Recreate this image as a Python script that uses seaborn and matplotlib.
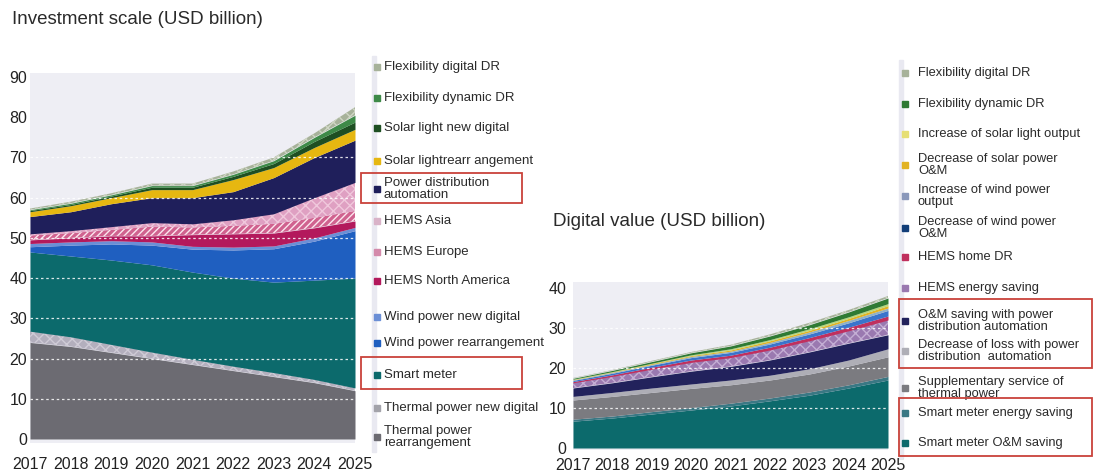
import numpy as np
import pandas as pd
import seaborn as sns
import matplotlib.pyplot as plt
from matplotlib.patches import Rectangle

sns.set_theme(style="white")
plt.rcParams['font.family'] = ['Liberation Sans', 'DejaVu Sans']
plt.rcParams['hatch.linewidth'] = 1.0

years = [2017, 2018, 2019, 2020, 2021, 2022, 2023, 2024, 2025]

# ---- Investment scale (USD billion), stacked bottom -> top ----
inv_labels = [
    "Thermal power\nrearrangement",
    "Thermal power new digital",
    "Smart meter",
    "Wind power rearrangement",
    "Wind power new digital",
    "HEMS North America",
    "HEMS Europe",
    "HEMS Asia",
    "Power distribution\nautomation",
    "Solar lightrearr angement",
    "Solar light new digital",
    "Flexibility dynamic DR",
    "Flexibility digital DR",
]
thermal_rearr = [24.0, 23.0, 21.5, 20.0, 18.5, 17.0, 15.5, 14.0, 12.0]
thermal_digital = [2.8, 2.4, 2.0, 1.6, 1.3, 1.1, 1.0, 0.8, 0.7]
smart_meter = [19.7, 20.1, 21.0, 21.7, 21.7, 21.9, 22.5, 24.7, 27.3]
wind_rearr = [1.3, 2.7, 4.0, 4.9, 5.7, 7.0, 8.3, 9.7, 11.8]
wind_digital = [0.8, 0.8, 0.8, 0.8, 0.7, 0.7, 0.7, 0.8, 0.8]
hems_na = [0.9, 1.0, 1.2, 1.5, 2.9, 3.3, 3.2, 2.5, 1.6]
hems_eu = [1.1, 1.2, 1.5, 2.3, 1.8, 2.0, 2.3, 2.5, 2.5]
hems_asia = [0.4, 0.6, 0.8, 1.0, 0.9, 1.5, 2.5, 5.0, 7.1]
pda = [4.3, 4.7, 5.7, 6.2, 6.5, 7.0, 9.0, 10.0, 10.5]
solar_rearr = [1.2, 1.5, 1.5, 2.0, 2.0, 3.0, 2.5, 2.5, 2.7]
solar_digital = [0.3, 0.3, 0.4, 0.6, 0.6, 0.8, 1.0, 1.5, 1.8]
flex_dynamic = [0.2, 0.3, 0.3, 0.4, 0.4, 0.5, 0.7, 1.0, 1.7]
flex_digital = [0.3, 0.4, 0.4, 0.5, 0.5, 0.7, 0.8, 1.0, 2.0]

inv_series = [thermal_rearr, thermal_digital, smart_meter, wind_rearr, wind_digital,
              hems_na, hems_eu, hems_asia, pda, solar_rearr, solar_digital,
              flex_dynamic, flex_digital]
inv_colors = ["#6c6b72", "#b3afbd", "#0c6a6c", "#1f5fc0", "#6b8fd6", "#b3195c",
              "#d0628f", "#dfa0c2", "#1f1f5b", "#e6b711", "#1e4f22", "#3e8a48",
              "#a7b29a"]
inv_legend_colors = list(inv_colors)
inv_legend_colors[6] = "#d48aab"
inv_legend_colors[7] = "#d9b3c8"
inv_legend_colors[1] = "#a3a3aa"
inv_hatch = [None, "xxx", None, None, None, None, "/////", "xxx", None, None, None, None, "xxx"]
inv_hatch_col = [None, "#cfcbd6", None, None, None, None, "#fbe6ee", "#f0c8dc",
                 None, None, None, None, "#cfd6c4"]

# ---- Digital value (USD billion), stacked bottom -> top ----
dig_labels = [
    "Smart meter O&M saving",
    "Smart meter energy saving",
    "Supplementary service of\nthermal power",
    "Decrease of loss with power\ndistribution  automation",
    "O&M saving with power\ndistribution automation",
    "HEMS energy saving",
    "HEMS home DR",
    "Decrease of wind power\nO&M",
    "Increase of wind power\noutput",
    "Decrease of solar power\nO&M",
    "Increase of solar light output",
    "Flexibility dynamic DR",
    "Flexibility digital DR",
]
sm_om = [6.7, 7.5, 8.5, 9.5, 10.5, 11.8, 13.2, 15.0, 17.0]
sm_energy = [0.5, 0.5, 0.6, 0.6, 0.7, 0.7, 0.8, 0.8, 0.9]
thermal_supp = [4.8, 4.9, 4.8, 4.8, 4.6, 4.5, 4.5, 4.7, 4.9]
pda_loss = [0.9, 1.0, 1.1, 1.1, 1.2, 1.2, 1.3, 1.5, 2.0]
pda_om = [2.1, 2.4, 2.8, 3.2, 3.4, 3.8, 4.2, 4.2, 3.5]
hems_energy = [1.3, 1.6, 1.9, 2.2, 2.2, 2.5, 2.8, 3.1, 3.7]
hems_dr = [0.3, 0.4, 0.5, 0.6, 0.6, 0.7, 0.8, 0.9, 1.0]
wind_om = [0.3, 0.4, 0.5, 0.6, 0.7, 0.8, 0.9, 1.1, 1.4]
wind_output = [0.1, 0.2, 0.2, 0.3, 0.3, 0.4, 0.5, 0.6, 0.6]
solar_om = [0.1, 0.1, 0.2, 0.2, 0.3, 0.4, 0.4, 0.5, 0.6]
solar_output = [0.1, 0.1, 0.1, 0.2, 0.3, 0.3, 0.4, 0.4, 0.5]
flex_dyn_val = [0.2, 0.3, 0.4, 0.5, 0.7, 0.9, 1.0, 1.2, 1.4]
flex_dig_val = [0.1, 0.1, 0.2, 0.2, 0.3, 0.4, 0.5, 0.5, 0.5]

dig_series = [sm_om, sm_energy, thermal_supp, pda_loss, pda_om, hems_energy, hems_dr,
              wind_om, wind_output, solar_om, solar_output, flex_dyn_val, flex_dig_val]
dig_colors = ["#0c6a6c", "#3a7884", "#7b7b80", "#aeaeb6", "#22225c", "#9a79b0",
              "#c0305e", "#3a74cc", "#8fb0c8", "#e2b323", "#b8d878", "#2f7a33",
              "#a7b29a"]
dig_legend_colors = list(dig_colors)
dig_legend_colors[7] = "#123e78"
dig_legend_colors[8] = "#8a98bb"
dig_legend_colors[10] = "#e6df74"
dig_hatch = [None, None, None, None, None, "xxx", None, None, None, None, None, None, "xxx"]
dig_hatch_col = [None, None, None, None, None, "#c4aed4", None, None, None, None, None,
                 None, "#cfd6c4"]

BG = "#eeeef4"


def draw_stack(ax, series, colors, hatches, hatch_cols):
    df = pd.DataFrame(np.array(series).T, index=years)
    cum = df.cumsum(axis=1)
    base = np.zeros(len(years))
    for i in range(df.shape[1]):
        top = cum[i].values
        ax.fill_between(years, base, top, facecolor=colors[i],
                        edgecolor=hatch_cols[i] if hatches[i] else colors[i],
                        hatch=hatches[i], linewidth=0, zorder=2)
        base = top


def style_axes(ax, ylim, yticks, grid_vals, xpad, ypad):
    ax.set_facecolor(BG)
    ax.set_xlim(2017, 2025)
    ax.set_ylim(*ylim)
    ax.set_xticks(years)
    ax.set_xticklabels([str(y) for y in years], fontsize=11.5, color="#222222")
    ax.set_yticks(yticks)
    ax.set_yticklabels([str(v) for v in yticks], fontsize=11.5, color="#222222")
    ax.tick_params(axis="x", length=0, pad=xpad)
    ax.tick_params(axis="y", length=0, pad=ypad)
    ax.grid(False)
    for g in grid_vals:
        ax.axhline(g, color="white", lw=0.9, ls=(0, (2, 2.2)), alpha=0.85, zorder=5)
    sns.despine(ax=ax, left=True, bottom=True)


fig = plt.figure(figsize=(10.93, 4.76), dpi=100)
W, H = 1093, 476


def fx(px):
    return px / W


def fy(py):
    return 1 - py / H


# Left chart
ax1 = fig.add_axes([fx(30), fy(443), fx(355) - fx(30), (443 - 73) / H])
draw_stack(ax1, inv_series, inv_colors, inv_hatch, inv_hatch_col)
style_axes(ax1, (-1, 91), list(range(0, 100, 10)), [10, 20, 30, 40, 50, 60, 70], 10, 2)

# Right chart
ax2 = fig.add_axes([fx(573), fy(450), fx(888) - fx(573), (450 - 282) / H])
draw_stack(ax2, dig_series, dig_colors, dig_hatch, dig_hatch_col)
style_axes(ax2, (-0.5, 41.5), [0, 10, 20, 30, 40], [10, 20, 30], 5.5, 5)

# Titles
fig.text(fx(12), fy(20), "Investment scale (USD billion)", fontsize=13.5,
         color="#2a2a2a", va="center", ha="left")
fig.text(fx(553), fy(222), "Digital value (USD billion)", fontsize=13.5,
         color="#2a2a2a", va="center", ha="left")

# Legend strips
fig.patches.append(Rectangle((fx(372), fy(452)), fx(4), (452 - 56) / H,
                             transform=fig.transFigure, color="#e9e9f1", zorder=0))
fig.patches.append(Rectangle((fx(899), fy(458)), fx(4), (458 - 60) / H,
                             transform=fig.transFigure, color="#e9e9f1", zorder=0))


def legend_entry(mx, tx, y, color, label, fs):
    fig.patches.append(Rectangle((fx(mx - 3), fy(y + 3)), fx(6), 6 / H,
                                 transform=fig.transFigure, color=color, zorder=3))
    fig.text(fx(tx), fy(y), label, fontsize=fs, color="#2a2a2a", va="center",
             ha="left", linespacing=0.95)


# Left legend (top -> bottom)
left_y = [67, 98, 128, 161, 189, 221, 252, 281, 317, 343, 375, 408, 437]
for yy, lab, col in zip(left_y, inv_labels[::-1], inv_legend_colors[::-1]):
    legend_entry(377, 384, yy, col, lab, 9.5)

# Right legend (top -> bottom)
right_y = [73, 104, 134, 165, 196, 228, 257, 288, 321, 351, 388, 413, 443]
for yy, lab, col in zip(right_y, dig_labels[::-1], dig_legend_colors[::-1]):
    legend_entry(905, 918, yy, col, lab, 9.25)

# Highlight boxes
red = "#c9423a"
for (x0, y0, x1, y1) in [(361, 173, 522, 203), (361, 357, 522, 389),
                         (899, 299, 1092, 368), (899, 398, 1092, 456)]:
    fig.patches.append(Rectangle((fx(x0), fy(y1)), fx(x1 - x0), (y1 - y0) / H,
                                 transform=fig.transFigure, fill=False,
                                 edgecolor=red, lw=1.3, zorder=4))

fig.savefig("out.png", dpi=100, facecolor="white")
